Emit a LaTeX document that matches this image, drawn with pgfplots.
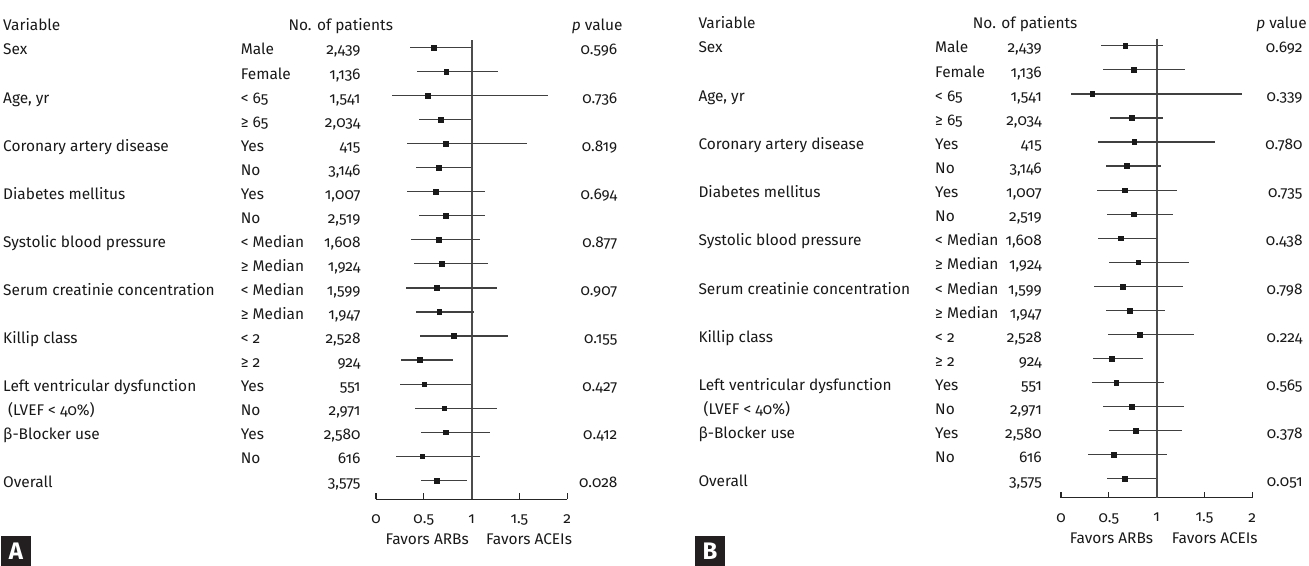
\documentclass[border=0pt]{standalone}
\usepackage{fontspec}
\setmainfont{Fira Sans}[Numbers=OldStyle]
\usepackage{pgfplots}
\usepackage{pgfplotstable}
\pgfplotsset{compat=1.18}
\definecolor{boxc}{HTML}{231F20}

\pgfplotstableread{
row est lo hi
0 0.600 0.356 0.995
1 0.735 0.430 1.280
2 0.537 0.164 1.800
3 0.673 0.446 0.995
4 0.725 0.328 1.583
5 0.652 0.415 0.995
6 0.621 0.328 1.137
7 0.725 0.446 1.137
8 0.652 0.370 1.085
9 0.683 0.400 1.168
10 0.631 0.314 1.269
11 0.662 0.422 1.028
12 0.809 0.464 1.381
13 0.453 0.265 0.802
14 0.505 0.254 0.995
15 0.714 0.411 1.269
16 0.725 0.474 1.189
17 0.484 0.212 1.091
18 0.631 0.467 0.949
}\dataA

\pgfplotstableread{
row est lo hi
0 0.672 0.421 1.063
1 0.756 0.442 1.293
2 0.327 0.108 1.896
3 0.735 0.512 1.063
4 0.766 0.383 1.607
5 0.683 0.474 1.042
6 0.662 0.373 1.209
7 0.756 0.481 1.167
8 0.620 0.390 1.004
9 0.808 0.499 1.335
10 0.641 0.348 1.272
11 0.714 0.474 1.084
12 0.819 0.488 1.387
13 0.526 0.338 0.861
14 0.578 0.327 1.074
15 0.735 0.442 1.289
16 0.777 0.505 1.262
17 0.547 0.285 1.105
18 0.662 0.484 0.995
}\dataB

\newcommand{\fs}{\fontsize{15.5}{18}\selectfont}
\tikzset{txt/.style={anchor=base west, inner sep=0pt, font=\fs, text=black!90}}

% panel A rows: r, variable, subgroup, n, p
\newcommand{\rowA}[5]{%
  \node[txt] at (3bp,{(511-24.05*#1)*1bp}) {#2};
  \node[txt] at (240.7bp,{(511-24.05*#1)*1bp}) {#3};
  \node[txt,anchor=base east] at (360.7bp,{(511-24.05*#1)*1bp}) {#4};
  \node[txt,anchor=base east] at (617.5bp,{(511-24.05*#1)*1bp}) {#5};
}
\newcommand{\rowB}[5]{%
  \node[txt] at (698.3bp,{(513-24.1*#1)*1bp}) {#2};
  \node[txt] at (935bp,{(513-24.1*#1)*1bp}) {#3};
  \node[txt,anchor=base east] at (1042bp,{(513-24.1*#1)*1bp}) {#4};
  \node[txt,anchor=base east] at (1302.7bp,{(513-24.1*#1)*1bp}) {#5};
}

\pgfplotsset{forest/.style={
  anchor=south west, scale only axis,
  width=191.2bp, height=459.1bp,
  xmin=0, xmax=2, ymin=-18.79, ymax=0.3,
  axis x line=bottom, axis y line=none,
  x axis line style={-, line width=1.3bp, black!85},
  xtick={0,0.5,1,1.5,2}, ytick=\empty,
  xtick align=inside, major tick length=6bp,
  xtick style={line width=1.2bp, black!85},
  clip=false,
  /pgf/number format/assume math mode=true,
  xticklabel style={font=\fs, text=black!90, yshift=-12bp},
}}

\begin{document}
\begin{tikzpicture}
\useasboundingbox (0,0) rectangle (1309bp,566bp);

% ---------- Panel A ----------
\begin{axis}[forest, at={(376bp,66.7bp)}, xtick align=inside]
\addplot[black!70, line width=1.8bp, forget plot] coordinates {(1,0.3) (1,-18.79)};
\addplot[draw=none, mark=none, forget plot,
  error bars/.cd, x dir=both, x explicit, error mark=none,
  error bar style={draw=black!75, line width=1.2bp}]
  table[x=est, y expr=-\thisrow{row},
        x error plus expr=\thisrow{hi}-\thisrow{est},
        x error minus expr=\thisrow{est}-\thisrow{lo}] {\dataA};
\addplot[only marks, mark=square*, mark size=2.4bp, black!90]
  table[x=est, y expr=-\thisrow{row}] {\dataA};
\end{axis}

% ---------- Panel B ----------
\begin{axis}[forest, at={(1061bp,68.3bp)}, width=191.3bp, xtick align=inside]
\addplot[black!70, line width=1.8bp, forget plot] coordinates {(1,0.3) (1,-18.79)};
\addplot[draw=none, mark=none, forget plot,
  error bars/.cd, x dir=both, x explicit, error mark=none,
  error bar style={draw=black!75, line width=1.2bp}]
  table[x=est, y expr=-\thisrow{row},
        x error plus expr=\thisrow{hi}-\thisrow{est},
        x error minus expr=\thisrow{est}-\thisrow{lo}] {\dataB};
\addplot[only marks, mark=square*, mark size=2.4bp, black!90]
  table[x=est, y expr=-\thisrow{row}] {\dataB};
\end{axis}

% ---------- Text A ----------
\node[txt] at (3bp,535bp) {Variable};
\node[txt] at (288.3bp,535bp) {No. of patients};
\node[txt,anchor=base east] at (622.7bp,535bp) {\textit{p} value};
\rowA{0}{Sex}{Male}{2,439}{0.596}
\rowA{1}{}{Female}{1,136}{}
\rowA{2}{Age, yr}{< 65}{1,541}{0.736}
\rowA{3}{}{≥ 65}{2,034}{}
\rowA{4}{Coronary artery disease}{Yes}{415}{0.819}
\rowA{5}{}{No}{3,146}{}
\rowA{6}{Diabetes mellitus}{Yes}{1,007}{0.694}
\rowA{7}{}{No}{2,519}{}
\rowA{8}{Systolic blood pressure}{< Median}{1,608}{0.877}
\rowA{9}{}{≥ Median}{1,924}{}
\rowA{10}{Serum creatinie concentration}{< Median}{1,599}{0.907}
\rowA{11}{}{≥ Median}{1,947}{}
\rowA{12}{Killip class}{< 2}{2,528}{0.155}
\rowA{13}{}{≥ 2}{924}{}
\rowA{14}{Left ventricular dysfunction}{Yes}{551}{0.427}
\rowA{15}{\hspace{5bp}(LVEF < 40\%)}{No}{2,971}{}
\rowA{16}{β-Blocker use}{Yes}{2,580}{0.412}
\rowA{17}{}{No}{616}{}
\rowA{18}{Overall}{}{3,575}{0.028}
\node[txt,anchor=base east] at (469bp,21.5bp) {Favors ARBs};
\node[txt] at (486bp,21.5bp) {Favors ACEIs};

% ---------- Text B ----------
\node[txt] at (698.3bp,537.1bp) {Variable};
\node[txt] at (972.7bp,537.1bp) {No. of patients};
\node[txt,anchor=base east] at (1307bp,537.1bp) {\textit{p} value};
\rowB{0}{Sex}{Male}{2,439}{0.692}
\rowB{1}{}{Female}{1,136}{}
\rowB{2}{Age, yr}{< 65}{1,541}{0.339}
\rowB{3}{}{≥ 65}{2,034}{}
\rowB{4}{Coronary artery disease}{Yes}{415}{0.780}
\rowB{5}{}{No}{3,146}{}
\rowB{6}{Diabetes mellitus}{Yes}{1,007}{0.735}
\rowB{7}{}{No}{2,519}{}
\rowB{8}{Systolic blood pressure}{< Median}{1,608}{0.438}
\rowB{9}{}{≥ Median}{1,924}{}
\rowB{10}{Serum creatinie concentration}{< Median}{1,599}{0.798}
\rowB{11}{}{≥ Median}{1,947}{}
\rowB{12}{Killip class}{< 2}{2,528}{0.224}
\rowB{13}{}{≥ 2}{924}{}
\rowB{14}{Left ventricular dysfunction}{Yes}{551}{0.565}
\rowB{15}{\hspace{5bp}(LVEF < 40\%)}{No}{2,971}{}
\rowB{16}{β-Blocker use}{Yes}{2,580}{0.378}
\rowB{17}{}{No}{616}{}
\rowB{18}{Overall}{}{3,575}{0.051}
\node[txt,anchor=base east] at (1153.3bp,22.8bp) {Favors ARBs};
\node[txt] at (1171.7bp,22.8bp) {Favors ACEIs};

% ---------- Panel letters ----------
\fill[boxc] (1bp,0bp) rectangle (31bp,30bp);
\node[text=white, font=\fontsize{24}{26}\selectfont\bfseries] at (16bp,15bp) {A};
\fill[boxc] (695bp,0bp) rectangle (725bp,30bp);
\node[text=white, font=\fontsize{24}{26}\selectfont\bfseries] at (710bp,15bp) {B};
\end{tikzpicture}
\end{document}
